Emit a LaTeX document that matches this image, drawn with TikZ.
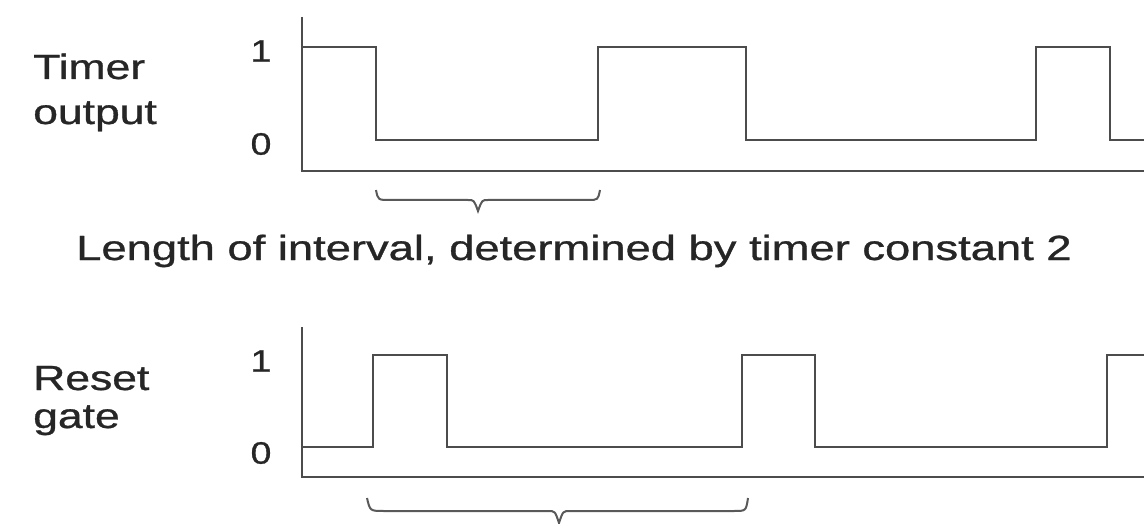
\documentclass[tikz,border=0pt]{standalone}
\usepackage{fontspec}
\setmainfont{Liberation Sans}[FakeBold=0.8]
\begin{document}
\begin{tikzpicture}[x=1pt,y=-1pt,
  wave/.style={draw=black!70, line width=2.2pt, line join=miter},
  axisline/.style={draw=black!70, line width=2.4pt},
  bracepath/.style={draw=black!65, line width=2pt},
  lbl/.style={inner sep=0pt, text=black!85, font=\fontsize{35}{42}\selectfont, xscale=1.27},
  digit/.style={inner sep=0pt, text=black!85, font=\fontsize{31}{36}\selectfont, xscale=1.2}]
\useasboundingbox (0,0) rectangle (1144,524);
\fill[white] (0,0) rectangle (1144,524);

% labels
\node[lbl, anchor=base west] (timerA) at (33,79) {Timer};
\node[lbl, anchor=base west] (timerB) at (33,124) {output};
\node[lbl, anchor=base west] (resetA) at (33,390) {Reset};
\node[lbl, anchor=base west] (resetB) at (33,428) {gate};
\node[digit] (tOne) at (261,51) {1};
\node[digit] (tZero) at (261,144) {0};
\node[digit] (rOne) at (261,361) {1};
\node[digit] (rZero) at (261,453) {0};
\node[lbl, anchor=base, xscale=1.02] (caption) at (574,260) {Length of interval, determined by timer constant 2};

% top chart
\coordinate (tTop) at (302,17);
\coordinate (tOrig) at (302,171);
\coordinate (tEnd) at (1144,171);
\draw[axisline] (tTop) -- (tOrig) -- (tEnd);
\draw[wave] (302,47) -- (376,47) -- (376,140) -- (598,140) -- (598,47) -- (746,47)
  -- (746,140) -- (1036,140) -- (1036,47) -- (1110,47) -- (1110,140) -- (1144,140);

% bottom chart
\coordinate (rTop) at (302,327);
\coordinate (rOrig) at (302,477);
\coordinate (rEnd) at (1144,477);
\draw[axisline] (rTop) -- (rOrig) -- (rEnd);
\draw[wave] (302,447) -- (373,447) -- (373,355) -- (447,355) -- (447,447) -- (742,447)
  -- (742,355) -- (815,355) -- (815,447) -- (1107,447) -- (1107,355) -- (1144,355);

% braces
\draw[bracepath] (376,190) .. controls (378,200) .. (390,200) -- (468,200)
  .. controls (474,200) .. (478,211) .. controls (482,200) .. (488,200)
  -- (588,200) .. controls (598,200) .. (600,190);
\draw[bracepath] (367,498) .. controls (370,511) .. (384,511) -- (548,511)
  .. controls (555,511) .. (559,523) .. controls (563,511) .. (570,511)
  -- (734,511) .. controls (746,511) .. (748,498);
\end{tikzpicture}
\end{document}
